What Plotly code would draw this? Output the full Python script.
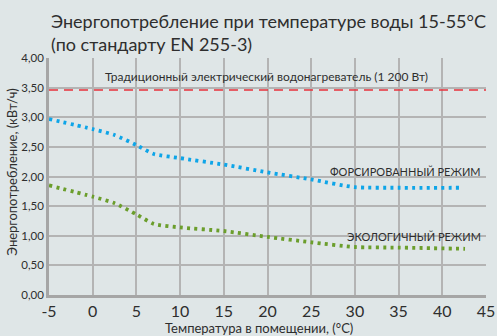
import plotly.graph_objects as go

# Data
boost_x = [-5, 0, 2.5, 5, 7, 10, 15, 20, 25, 30, 35, 42.1]
boost_y = [2.97, 2.80, 2.70, 2.53, 2.38, 2.31, 2.20, 2.07, 1.95, 1.82, 1.81, 1.81]
eco_x = [-5, 0, 2.5, 5, 7, 10, 15, 20, 25, 30, 35, 42.6]
eco_y = [1.85, 1.66, 1.55, 1.36, 1.20, 1.14, 1.08, 0.98, 0.89, 0.81, 0.80, 0.78]
ref_x = [-5, 45]
ref_value = 3.46

x_ticks = [-5, 0, 5, 10, 15, 20, 25, 30, 35, 40, 45]
x_tick_labels = ["-5", "0", "5", "10", "15", "20", "25", "30", "35", "40", "45"]
y_ticks = [0, 0.5, 1, 1.5, 2, 2.5, 3, 3.5, 4]

title_lines = ["Энергопотребление при температуре воды 15-55°C", "(по стандарту EN 255-3)"]
ref_label = "Традиционный электрический водонагреватель (1 200 Вт)"
boost_label = "ФОРСИРОВАННЫЙ РЕЖИМ"
eco_label = "ЭКОЛОГИЧНЫЙ РЕЖИМ"
x_title = "Температура в помещении, (°C)"
y_title = "Энергопотребление, (кВт/ч)"

BG = "#dfe6e7"
GRID = "#b4b4b4"
TXT = "#2e2e2e"
FONT = "Lato, Open Sans, sans-serif"

fig = go.Figure()
fig.add_trace(go.Scatter(x=ref_x, y=[ref_value, ref_value], mode="lines",
                         line=dict(color="#e8323c", width=1.6, dash="9px,6px"),
                         hoverinfo="skip"))
fig.add_trace(go.Scatter(x=boost_x, y=boost_y, mode="lines",
                         line=dict(color="#0ea5e8", width=3.8, dash="3px,4.3px", shape="spline", smoothing=0.6)))
fig.add_trace(go.Scatter(x=eco_x, y=eco_y, mode="lines",
                         line=dict(color="#6b9e2c", width=3.8, dash="3px,4.3px", shape="spline", smoothing=0.6)))

fig.add_annotation(x=19.9, y=ref_value, yshift=14, text=ref_label, showarrow=False,
                   font=dict(size=12, color=TXT, family=FONT), xanchor="center", yanchor="middle")
fig.add_annotation(x=44.7, y=boost_y[-1], yshift=16, text=boost_label, showarrow=False,
                   font=dict(size=11, color=TXT, family=FONT), xanchor="right", yanchor="middle")
fig.add_annotation(x=44.7, y=eco_y[-1], yshift=12, text=eco_label, showarrow=False,
                   font=dict(size=11, color=TXT, family=FONT), xanchor="right", yanchor="middle")

# title lines
fig.add_annotation(xref="paper", yref="paper", x=0, y=1, yshift=37, text=title_lines[0],
                   showarrow=False, xanchor="left", yanchor="middle",
                   font=dict(size=18, color=TXT, family=FONT))
fig.add_annotation(xref="paper", yref="paper", x=0, y=1, yshift=14.5, text=title_lines[1],
                   showarrow=False, xanchor="left", yanchor="middle",
                   font=dict(size=18, color=TXT, family=FONT))
# axis titles
fig.add_annotation(xref="paper", yref="paper", x=0.48, y=0, yshift=-33, text=x_title,
                   showarrow=False, xanchor="center", yanchor="middle",
                   font=dict(size=13, color=TXT, family=FONT))
fig.add_annotation(xref="paper", yref="paper", x=0, xshift=-37, y=0.52, text=y_title,
                   showarrow=False, xanchor="center", yanchor="middle", textangle=-90,
                   font=dict(size=13, color=TXT, family=FONT))

fig.update_layout(
    width=497, height=336,
    paper_bgcolor=BG, plot_bgcolor=BG,
    margin=dict(l=48.5, r=10.5, t=58.3, b=41, autoexpand=False),
    showlegend=False,
    separators=", ",
    font=dict(family=FONT, color=TXT),
)
fig.update_xaxes(range=[-5, 45], tickvals=x_ticks, ticktext=x_tick_labels,
                 showgrid=True, gridcolor=GRID, gridwidth=1.5,
                 showline=True, linecolor="#a6a6a6", linewidth=2.5,
                 zeroline=False, ticks="", automargin=False,
                 tickfont=dict(size=16, color=TXT, family=FONT))
fig.update_yaxes(range=[0, 4], tickvals=y_ticks, tickformat=".2f",
                 showgrid=True, gridcolor=GRID, gridwidth=1.5,
                 showline=True, linecolor="#a6a6a6", linewidth=2.5,
                 zeroline=False, ticks="", automargin=False,
                 tickfont=dict(size=11.5, color=TXT, family=FONT))

fig.write_html("out.html", config={"displayModeBar": False},
               post_script="document.body.style.margin='0';document.body.style.padding='0';")
